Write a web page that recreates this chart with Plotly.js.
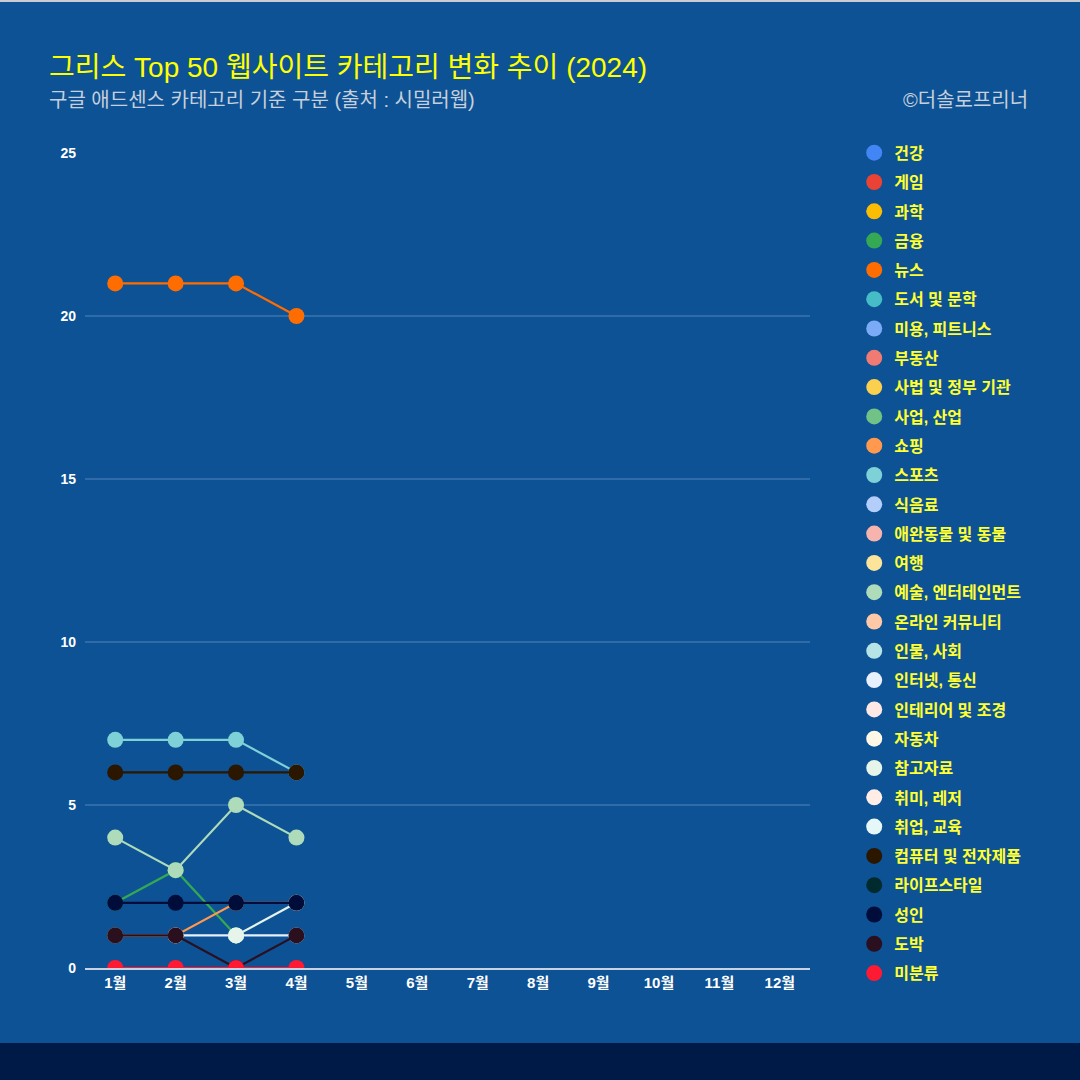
<!DOCTYPE html>
<html>
<head>
<meta charset="utf-8">
<script src="https://cdn.plot.ly/plotly-3.0.1.min.js"></script>
<style>
html,body{margin:0;padding:0;background:#001a47;width:1080px;height:1080px;overflow:hidden;}
#top{height:2px;background:#c9cdd2;}
#chart{width:1080px;height:1041px;}
</style>
</head>
<body>
<div id="top"></div>
<div id="chart"></div>
<script>
const months = ['1월','2월','3월','4월','5월','6월','7월','8월','9월','10월','11월','12월'];
const categories = ['건강','게임','과학','금융','뉴스','도서 및 문학','미용, 피트니스','부동산','사법 및 정부 기관','사업, 산업','쇼핑','스포츠','식음료','애완동물 및 동물','여행','예술, 엔터테인먼트','온라인 커뮤니티','인물, 사회','인터넷, 통신','인테리어 및 조경','자동차','참고자료','취미, 레저','취업, 교육','컴퓨터 및 전자제품','라이프스타일','성인','도박','미분류'];
const colors = ['#4285f4','#ea4335','#fbbc04','#34a853','#ff6d01','#46bdc6','#7baaf7','#f07b72','#fcd04f','#71c287','#ff994d','#7ed1d7','#b3cefb','#f7b4ae','#fde49b','#aedcba','#ffc8a6','#b5e3e6','#e8f0fe','#fde8e6','#fff8e6','#e6f4ea','#ffede6','#e6f7f8','#2b1700','#002b2e','#000c3a','#2a0f1f','#ff1a33'];
const values = {
  '건강': [null,null,null,null],
  '게임': [null,null,null,null],
  '과학': [null,null,null,null],
  '금융': [2,3,1,null],
  '뉴스': [21,21,21,20],
  '도서 및 문학': [null,null,null,null],
  '미용, 피트니스': [null,null,null,null],
  '부동산': [null,null,null,null],
  '사법 및 정부 기관': [null,null,null,null],
  '사업, 산업': [null,null,null,null],
  '쇼핑': [1,1,2,2],
  '스포츠': [7,7,7,6],
  '식음료': [null,null,null,null],
  '애완동물 및 동물': [null,null,null,null],
  '여행': [null,null,null,null],
  '예술, 엔터테인먼트': [4,3,5,4],
  '온라인 커뮤니티': [null,null,null,null],
  '인물, 사회': [null,null,null,null],
  '인터넷, 통신': [null,1,1,1],
  '인테리어 및 조경': [null,null,null,null],
  '자동차': [null,null,null,null],
  '참고자료': [null,null,1,2],
  '취미, 레저': [null,null,null,null],
  '취업, 교육': [null,null,null,null],
  '컴퓨터 및 전자제품': [6,6,6,6],
  '라이프스타일': [null,null,null,null],
  '성인': [2,2,2,2],
  '도박': [1,1,0,1],
  '미분류': [0,0,0,0]
};
const yTicks = [0,5,10,15,20,25];

const FONT = '"Liberation Sans", Arial, "Noto Sans CJK KR", sans-serif';
const dataTraces = categories.map((c,i)=>({
  type:'scatter', mode:'lines+markers', name:c, showlegend:false,
  x: months.slice(0, values[c].length), y: values[c],
  line:{color:colors[i], width:2.2},
  marker:{color:colors[i], size:16},
  cliponaxis:true
}));
const legendTraces = categories.map((c,i)=>({
  type:'scatter', mode:'markers', name:c, legendgroup:c, showlegend:true,
  x:[null], y:[null],
  marker:{color:colors[i], size:16}
}));

const layout = {
  width:1080, height:1041,
  paper_bgcolor:'#0d5294', plot_bgcolor:'#0d5294',
  margin:{l:85, r:270, t:151, b:75},
  legend:{x:1.061, xanchor:'left', y:1.0211, yanchor:'top', maxheight:1000, font:{family:FONT, size:16, color:'#ffff33', weight:'bold'}, tracegroupgap:5.5, itemwidth:30, bgcolor:'rgba(0,0,0,0)'},
  xaxis:{type:'category', categoryarray:months, range:[-0.5,11.5], showgrid:false, showline:true, linecolor:'#c8d2e0', linewidth:1.5, tickfont:{family:FONT, size:15, color:'#ffffff', weight:'bold'}, ticks:'', zeroline:false},
  yaxis:{range:[0,25], tickvals:yTicks, gridcolor:'#2f6ba8', gridwidth:1.5, zeroline:false, showline:false, tickfont:{family:FONT, size:14, color:'#ffffff', weight:'bold'}, ticks:'', ticklabelstandoff:8},
  annotations:[
    {xref:'paper', yref:'paper', x:-0.052, y:1.1043, xanchor:'left', yanchor:'middle', text:'그리스 Top 50 웹사이트 카테고리 변화 추이 (2024)', showarrow:false, font:{family:FONT, size:28, color:'#ffff00'}},
    {xref:'paper', yref:'paper', x:-0.052, y:1.065, xanchor:'left', yanchor:'middle', text:'구글 애드센스 카테고리 기준 구분 (출처 : 시밀러웹)', showarrow:false, font:{family:FONT, size:20, color:'#c6cfdb'}},
    {xref:'paper', yref:'paper', x:1.3035, y:1.065, xanchor:'right', yanchor:'middle', text:'©더솔로프리너', showarrow:false, font:{family:FONT, size:20, color:'#c6cfdb'}}
  ]
};
Plotly.newPlot('chart', dataTraces.concat(legendTraces), layout, {displayModeBar:false, staticPlot:true});
</script>
</body>
</html>
